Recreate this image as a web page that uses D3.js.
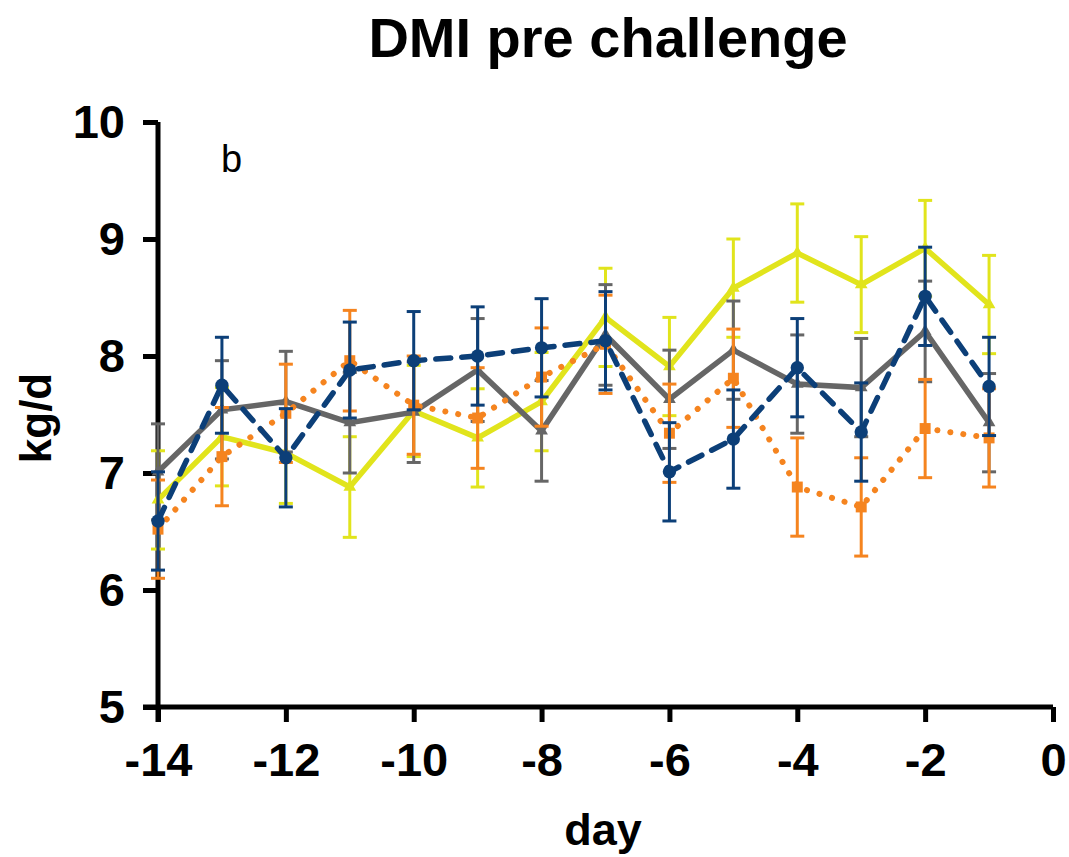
<!DOCTYPE html>
<html>
<head>
<meta charset="utf-8">
<script src="https://cdn.jsdelivr.net/npm/d3@7"></script>
<style>
  body { margin: 0; background: #fff; }
  text { font-family: "Liberation Sans", Arial, sans-serif; }
</style>
</head>
<body>
<svg id="chart" width="1069" height="857"></svg>
<script>
// DMI pre challenge -- panel b

var days = [-14, -13, -12, -11, -10, -9, -8, -7, -6, -5, -4, -3, -2, -1];

var yellowMean = [6.77, 7.31, 7.17, 6.88, 7.53, 7.30, 7.61, 8.33, 7.91, 8.58, 8.88, 8.61, 8.92, 8.44];
var yellowSe   = [0.42, 0.42, 0.43, 0.43, 0.39, 0.42, 0.42, 0.42, 0.42, 0.42, 0.42, 0.41, 0.41, 0.42];

var grayMean = [7.01, 7.54, 7.61, 7.43, 7.52, 7.88, 7.36, 8.18, 7.63, 8.05, 7.76, 7.73, 8.21, 7.43];
var graySe   = [0.41, 0.42, 0.43, 0.43, 0.43, 0.44, 0.43, 0.43, 0.42, 0.42, 0.42, 0.42, 0.43, 0.42];

var orangeMean = [6.52, 7.14, 7.51, 7.96, 7.58, 7.47, 7.82, 8.10, 7.34, 7.81, 6.88, 6.71, 7.38, 7.30];
var orangeSe   = [0.42, 0.42, 0.42, 0.43, 0.42, 0.43, 0.42, 0.42, 0.42, 0.42, 0.42, 0.42, 0.42, 0.42];

var blueMean = [6.59, 7.75, 7.13, 7.88, 7.96, 8.00, 8.07, 8.13, 7.01, 7.29, 7.90, 7.35, 8.51, 7.74];
var blueSe   = [0.42, 0.41, 0.42, 0.41, 0.42, 0.42, 0.42, 0.42, 0.42, 0.42, 0.42, 0.42, 0.42, 0.42];

var xTicks = [-14, -12, -10, -8, -6, -4, -2, 0];
var yTicks = [5, 6, 7, 8, 9, 10];

var series = [
  {name: "yellow", mean: yellowMean, se: yellowSe, color: "#e1e41c", dash: null, marker: "triangle"},
  {name: "gray", mean: grayMean, se: graySe, color: "#666666", dash: null, marker: "triangle"},
  {name: "orange", mean: orangeMean, se: orangeSe, color: "#f5841f", dash: "0.1,13", marker: "square"},
  {name: "blue", mean: blueMean, se: blueSe, color: "#0c3f78", dash: "15,11", marker: "circle"}
];

///////////////////////////////////////////////////////////////////////////////
// Scales and axes

var svg = d3.select("#chart");

var x = d3.scaleLinear().domain([-14, 0]).range([158, 1053]);
var y = d3.scaleLinear().domain([5, 10]).range([707, 122]);

// plain hyphen, no decimals -- like the original
var plain = function (d) { return String(d); };

var xAxis = svg.append("g")
  .attr("transform", "translate(0," + y(5) + ")")
  .call(d3.axisBottom(x).tickValues(xTicks).tickFormat(plain).tickSize(15).tickPadding(20));

var yAxis = svg.append("g")
  .attr("transform", "translate(" + x(-14) + ",0)")
  .call(d3.axisLeft(y).tickValues(yTicks).tickFormat(plain).tickSize(15).tickPadding(18));

[xAxis, yAxis].forEach(function (ax) {
  ax.select(".domain").attr("stroke", "#000").attr("stroke-width", 5);
  ax.selectAll(".tick line").attr("stroke", "#000").attr("stroke-width", 5);
  ax.selectAll(".tick text")
    .attr("fill", "#000")
    .style("font-size", "47px")
    .style("font-weight", "bold");
});
// square off the domain path ends (d3 adds outer ticks of tickSize; drop them)
xAxis.select(".domain").attr("d", "M" + (x(-14) - 15) + ",0H" + x(0));
yAxis.select(".domain").attr("d", "M0," + y(10) + "V" + (y(5) + 15));
xAxis.selectAll(".tick text").attr("dy", "0.72em");

///////////////////////////////////////////////////////////////////////////////
// Series

var line = d3.line()
  .x(function (d, i) { return x(days[i]); })
  .y(function (d) { return y(d); });

var marks = {
  triangle: d3.symbol().type(d3.symbolTriangle).size(70),
  square: d3.symbol().type(d3.symbolSquare).size(120),
  circle: d3.symbol().type(d3.symbolCircle).size(140)
};

series.forEach(function (s) {
  var g = svg.append("g").attr("class", "series " + s.name);

  // error bars
  var bars = g.selectAll("g.err").data(s.mean).enter().append("g").attr("class", "err");
  bars.append("line")
    .attr("x1", function (d, i) { return x(days[i]); })
    .attr("x2", function (d, i) { return x(days[i]); })
    .attr("y1", function (d, i) { return y(d - s.se[i]); })
    .attr("y2", function (d, i) { return y(d + s.se[i]); })
    .attr("stroke", s.color).attr("stroke-width", 3);
  [-1, 1].forEach(function (sign) {
    bars.append("line")
      .attr("x1", function (d, i) { return x(days[i]) - 7; })
      .attr("x2", function (d, i) { return x(days[i]) + 7; })
      .attr("y1", function (d, i) { return y(d + sign * s.se[i]); })
      .attr("y2", function (d, i) { return y(d + sign * s.se[i]); })
      .attr("stroke", s.color).attr("stroke-width", 3);
  });

  var path = g.append("path")
    .datum(s.mean)
    .attr("d", line)
    .attr("fill", "none")
    .attr("stroke", s.color)
    .attr("stroke-width", s.name == "orange" ? 6 : 5.5)
    .attr("stroke-linejoin", "miter");
  if (s.dash) {
    path.attr("stroke-dasharray", s.dash).attr("stroke-linecap", "round");
  }

  g.selectAll("path.mark").data(s.mean).enter().append("path")
    .attr("class", "mark")
    .attr("d", marks[s.marker])
    .attr("transform", function (d, i) { return "translate(" + x(days[i]) + "," + y(d) + ")"; })
    .attr("fill", s.color);
});

///////////////////////////////////////////////////////////////////////////////
// Labels

svg.append("text")
  .attr("x", 608).attr("y", 57)
  .attr("text-anchor", "middle")
  .style("font-size", "56px").style("font-weight", "bold")
  .text("DMI pre challenge");

svg.append("text")
  .attr("x", 221).attr("y", 172)
  .style("font-size", "38px")
  .text("b");

svg.append("text")
  .attr("transform", "translate(51,418) rotate(-90)")
  .attr("text-anchor", "middle")
  .style("font-size", "44px").style("font-weight", "bold")
  .text("kg/d");

svg.append("text")
  .attr("x", 603).attr("y", 845)
  .attr("text-anchor", "middle")
  .style("font-size", "45px").style("font-weight", "bold")
  .text("day");
</script>
</body>
</html>
